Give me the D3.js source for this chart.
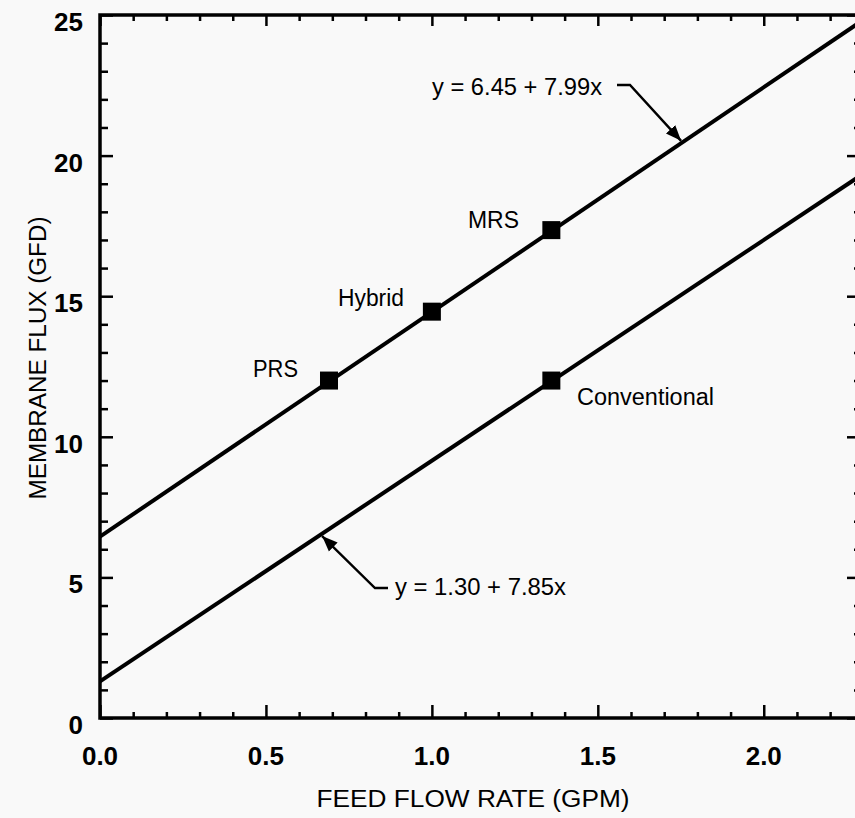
<!DOCTYPE html>
<html>
<head>
<meta charset="utf-8">
<script src="https://cdn.jsdelivr.net/npm/d3@7"></script>
<style>
  body { margin: 0; background: #f9f9f9; }
  svg { display: block; font-family: "Liberation Sans", Arial, Helvetica, sans-serif; }
</style>
</head>
<body>
<script>
var width = 855,
    height = 818;

// plot box, right edge falls just past the picture
var plotLeft = 100, plotRight = 860, plotTop = 15, plotBottom = 718;

// measured points
var labels = ["PRS", "Hybrid", "MRS", "Conventional"];
var flow   = [0.69, 1.0, 1.36, 1.36];
var flux   = [12.0, 14.45, 17.35, 12.0];

// fitted lines as printed on the chart
var fitNames   = ["upper", "lower"];
var intercepts = [6.45, 1.30];
var slopes     = [7.99, 7.85];
var fitText    = ["y = 6.45 + 7.99x", "y = 1.30 + 7.85x"];
var arrowAt    = [1.755, 0.665];   // x where each leader touches its line

var xMajor = [0, 0.5, 1.0, 1.5, 2.0];
var yMajor = [0, 5, 10, 15, 20, 25];

var svg = d3.select("body").append("svg")
    .attr("width", width)
    .attr("height", height);

svg.append("rect").attr("width", width).attr("height", height).attr("fill", "#f9f9f9");

var x = d3.scaleLinear().domain([0, 2.29]).range([plotLeft, plotRight]);
var y = d3.scaleLinear().domain([0, 25]).range([plotBottom, plotTop]);

var xMinor = d3.range(0, 23).map(function(i) { return i / 10; }).filter(function(v) { return Math.round(v * 10) % 5 != 0; });
var yMinor = d3.range(0, 26).filter(function(v) { return v % 5 != 0; });

var defs = svg.append("defs");
defs.append("clipPath").attr("id", "plot")
  .append("rect").attr("x", plotLeft).attr("y", plotTop)
    .attr("width", plotRight - plotLeft).attr("height", plotBottom - plotTop);

defs.append("marker")
    .attr("id", "arrow")
    .attr("viewBox", "0 0 10 10")
    .attr("refX", 10).attr("refY", 5)
    .attr("markerWidth", 6.5).attr("markerHeight", 6.5)
    .attr("markerUnits", "strokeWidth")
    .attr("orient", "auto")
  .append("path").attr("d", "M0,1L10,5L0,9Z").attr("fill", "#000");

// axes, ticks pointing inward on all four sides
function axis(gen, tx, ty, vals, size) {
  var g = svg.append("g").attr("transform", "translate(" + tx + "," + ty + ")")
    .call(gen.tickValues(vals).tickSize(size).tickFormat(""));
  g.select(".domain").remove();
  g.selectAll("line").attr("stroke", "#000").attr("stroke-width", 2.5);
  return g;
}
axis(d3.axisBottom(x), 0, plotTop, xMajor, 11);
axis(d3.axisBottom(x), 0, plotTop, xMinor, 6);
axis(d3.axisTop(x), 0, plotBottom, xMajor, 13);
axis(d3.axisTop(x), 0, plotBottom, xMinor, 6);
axis(d3.axisRight(y), plotLeft, 0, yMajor, 13);
axis(d3.axisRight(y), plotLeft, 0, yMinor, 8);
axis(d3.axisLeft(y), plotRight, 0, yMajor, 13);
axis(d3.axisLeft(y), plotRight, 0, yMinor, 6);

svg.append("rect")
    .attr("x", plotLeft).attr("y", plotTop)
    .attr("width", plotRight - plotLeft).attr("height", plotBottom - plotTop)
    .attr("fill", "none").attr("stroke", "#000").attr("stroke-width", 3.5);

// tick labels
svg.append("g").selectAll("text").data(xMajor).enter().append("text")
    .attr("x", function(d) { return x(d); })
    .attr("y", 765)
    .attr("text-anchor", "middle")
    .attr("font-size", 26).attr("font-weight", "bold")
    .text(function(d) { return d.toFixed(1); });

svg.append("g").selectAll("text").data(yMajor).enter().append("text")
    .attr("x", 83)
    .attr("y", function(d) { return y(d) + 16; })
    .attr("text-anchor", "end")
    .attr("font-size", 26).attr("font-weight", "bold")
    .text(function(d) { return d; });

// axis titles
svg.append("text")
    .attr("x", 473).attr("y", 807)
    .attr("text-anchor", "middle")
    .attr("font-size", 23)
    .attr("textLength", 313).attr("lengthAdjust", "spacingAndGlyphs")
    .text("FEED FLOW RATE (GPM)");

svg.append("text")
    .attr("transform", "translate(46,358) rotate(-90)")
    .attr("text-anchor", "middle")
    .attr("font-size", 23)
    .attr("textLength", 283).attr("lengthAdjust", "spacingAndGlyphs")
    .text("MEMBRANE FLUX (GFD)");

// regression lines
var line = d3.line().x(function(d) { return x(d[0]); }).y(function(d) { return y(d[1]); });
svg.append("g").attr("clip-path", "url(#plot)")
  .selectAll("path").data(fitNames).enter().append("path")
    .attr("d", function(d, i) {
      var x1 = x.domain()[1];
      return line([[0, intercepts[i]], [x1, intercepts[i] + slopes[i] * x1]]);
    })
    .attr("fill", "none").attr("stroke", "#000").attr("stroke-width", 4);

// points
svg.append("g").selectAll("rect").data(labels).enter().append("rect")
    .attr("x", function(d, i) { return x(flow[i]) - 9; })
    .attr("y", function(d, i) { return y(flux[i]) - 9; })
    .attr("width", 18).attr("height", 18)
    .attr("fill", "#000");

var labelPos = [[253, 377], [338, 306], [468, 228], [577, 405]];
svg.append("g").selectAll("text").data(labels).enter().append("text")
    .attr("x", function(d, i) { return labelPos[i][0]; })
    .attr("y", function(d, i) { return labelPos[i][1]; })
    .attr("font-size", 23)
    .attr("textLength", function(d, i) { return [45, 66, 51, 137][i]; })
    .attr("lengthAdjust", "spacingAndGlyphs")
    .text(function(d) { return d; });

// equation callouts
var eqPos = [[432, 95, 170], [395, 595, 171]];
var leaderStart = [[617, 85, 630], [388, 588, 375]];
svg.append("g").selectAll("text").data(fitText).enter().append("text")
    .attr("x", function(d, i) { return eqPos[i][0]; })
    .attr("y", function(d, i) { return eqPos[i][1]; })
    .attr("font-size", 23)
    .attr("textLength", function(d, i) { return eqPos[i][2]; })
    .attr("lengthAdjust", "spacingAndGlyphs")
    .text(function(d) { return d; });

svg.append("g").selectAll("path").data(fitNames).enter().append("path")
    .attr("d", function(d, i) {
      var s = leaderStart[i];
      var tx = x(arrowAt[i]), ty = y(intercepts[i] + slopes[i] * arrowAt[i]);
      var dx = tx - s[2], dy = ty - s[1], len = Math.sqrt(dx * dx + dy * dy);
      // stop just short of the line so the arrow tip sits on its edge
      var ex = tx - dx / len * 2, ey = ty - dy / len * 2;
      return "M" + s[0] + "," + s[1] + "L" + s[2] + "," + s[1] + "L" + ex + "," + ey;
    })
    .attr("fill", "none").attr("stroke", "#000").attr("stroke-width", 2.4)
    .attr("marker-end", "url(#arrow)");
</script>
</body>
</html>
